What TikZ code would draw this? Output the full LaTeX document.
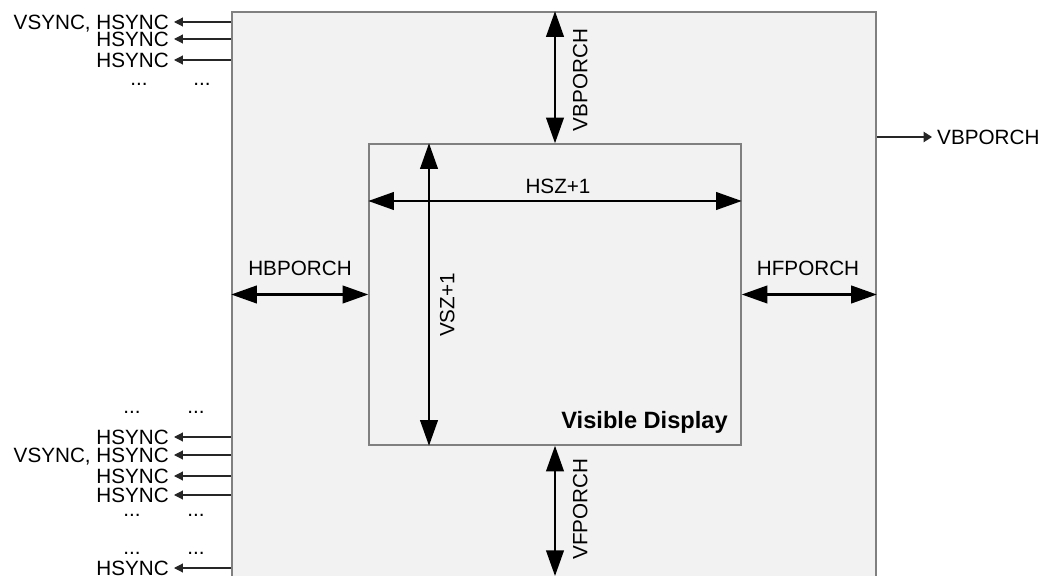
\documentclass[tikz,border=0pt]{standalone}
\usepackage{fontspec}
\setmainfont{Liberation Sans}
\usetikzlibrary{arrows.meta,positioning}
\definecolor{panelfill}{RGB}{242,242,242}
\definecolor{panelline}{RGB}{128,128,128}
\tikzset{
  panel/.style={draw=panelline, fill=panelfill, line width=1pt, inner sep=0pt},
  lbl/.style={font=\fontsize{14.7}{17}\selectfont, inner sep=0pt, text height=10.5pt, text depth=0pt},
  boldlbl/.style={font=\fontsize{16.8}{19}\selectfont\bfseries, inner sep=0pt, text height=12pt, text depth=0pt},
  siglbl/.style={lbl, inner xsep=3.5pt},
  dimflow/.style={{Triangle[length=6.4mm,width=4.4mm]}-{Triangle[length=6.4mm,width=4.4mm]}, line width=1.5pt, black},
  sigflow/.style={-{Triangle[length=2.2mm,width=2.2mm]}, line width=0.8pt, black!85},
  outflow/.style={-{Triangle[length=2.1mm,width=2.6mm]}, line width=0.8pt, black!85}
}

\begin{document}
\begin{tikzpicture}[x=0.025cm,y=-0.025cm]
  \useasboundingbox (0,0) rectangle (1044,576);

  % blanking frame and visible area
  \node[panel, minimum width=16.1cm, minimum height=14.7cm] (frame) at (554,306) {};
  \node[panel, minimum width=9.3cm, minimum height=7.525cm] (visible) at (555,294.5) {};
  \node[boldlbl, anchor=east] (vdlabel) at (728,420) {Visible Display};

  % porch and size measures
  \coordinate (vszcol) at (429,0);
  \coordinate (hszrow) at (0,201);
  \coordinate (vfend) at (555,576);

  \draw[dimflow] (frame.north -| visible.north) -- (visible.north);
  \draw[dimflow] (visible.south) -- (visible.south |- vfend);
  \draw[dimflow] (visible.west |- hszrow) -- (visible.east |- hszrow);
  \draw[dimflow] (visible.north -| vszcol) -- (visible.south -| vszcol);
  \draw[dimflow] (frame.west |- visible.west) -- (visible.west);
  \draw[dimflow] (visible.east) -- (frame.east |- visible.east);

  \node[lbl, rotate=90] (vbporch) at (580,80) {VBPORCH};
  \node[lbl, rotate=90] (vfporch) at (580,509) {VFPORCH};
  \node[lbl] (hsz) at (558,186) {HSZ+1};
  \node[lbl, rotate=90] (vsz) at (447,305) {VSZ+1};
  \node[lbl] (hbporch) at (300,268) {HBPORCH};
  \node[lbl] (hfporch) at (808,268) {HFPORCH};

  % output on the right
  \node[siglbl, anchor=west] (vbout) at (932,137) {VBPORCH};
  \draw[outflow] (frame.east |- vbout.west) -- (vbout.west);

  % sync outputs, top
  \node[siglbl, anchor=east] (synca) at (174,22) {VSYNC, HSYNC};
  \node[siglbl, anchor=east] (syncb) at (174,39) {HSYNC};
  \node[siglbl, anchor=east] (syncc) at (174,60) {HSYNC};
  \node[lbl, anchor=base] (dotsa) at (139,86) {...};
  \node[lbl, anchor=base] (dotsb) at (202,86) {...};

  \draw[sigflow] (frame.west |- synca.east) -- (synca.east);
  \draw[sigflow] (frame.west |- syncb.east) -- (syncb.east);
  \draw[sigflow] (frame.west |- syncc.east) -- (syncc.east);

  % sync outputs, bottom
  \node[lbl, anchor=base] (dotsc) at (132,413) {...};
  \node[lbl, anchor=base] (dotsd) at (196,413) {...};
  \node[siglbl, anchor=east] (syncd) at (174,437) {HSYNC};
  \node[siglbl, anchor=east] (synce) at (174,455) {VSYNC, HSYNC};
  \node[siglbl, anchor=east] (syncf) at (174,476) {HSYNC};
  \node[siglbl, anchor=east] (syncg) at (174,495) {HSYNC};
  \node[lbl, anchor=base] (dotse) at (132,516) {...};
  \node[lbl, anchor=base] (dotsf) at (196,516) {...};
  \node[lbl, anchor=base] (dotsg) at (132,554) {...};
  \node[lbl, anchor=base] (dotsh) at (196,554) {...};
  \node[siglbl, anchor=east] (synch) at (174,568) {HSYNC};

  \draw[sigflow] (frame.west |- syncd.east) -- (syncd.east);
  \draw[sigflow] (frame.west |- synce.east) -- (synce.east);
  \draw[sigflow] (frame.west |- syncf.east) -- (syncf.east);
  \draw[sigflow] (frame.west |- syncg.east) -- (syncg.east);
  \draw[sigflow] (frame.west |- synch.east) -- (synch.east);
\end{tikzpicture}
\end{document}
